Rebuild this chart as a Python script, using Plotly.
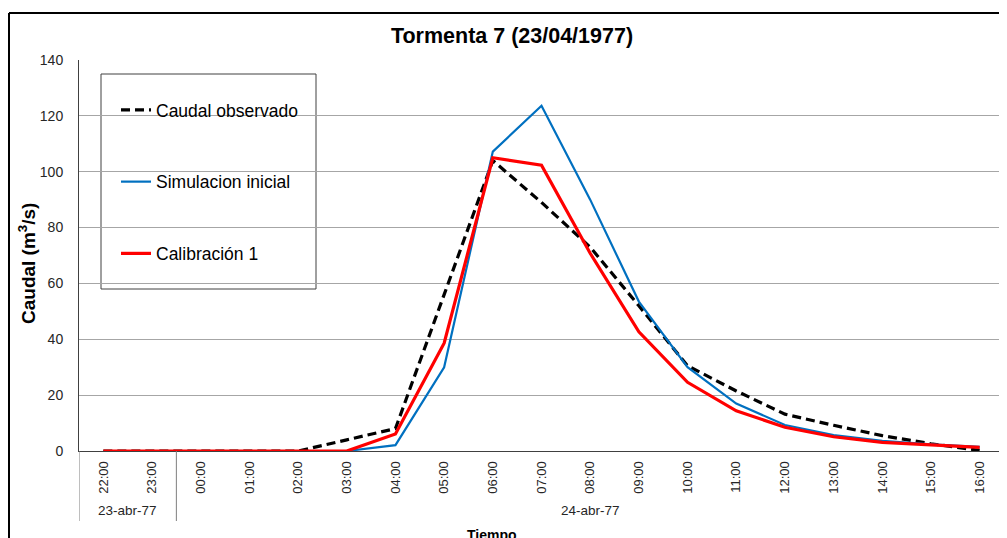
import plotly.graph_objects as go

horas = ["22:00", "23:00", "00:00", "01:00", "02:00", "03:00", "04:00", "05:00", "06:00",
         "07:00", "08:00", "09:00", "10:00", "11:00", "12:00", "13:00", "14:00", "15:00", "16:00"]
observado = [0, 0, 0, 0, 0, 4, 8, 56, 104, 89, 73, 52, 30.5, 21.5, 13.2, 9.2, 5.5, 2.6, 0.2]
simulacion = [0, 0, 0, 0, 0, 0, 2.1, 30, 107.2, 123.6, 90, 53.5, 30, 17, 9.3, 5.7, 3.6, 2.4, 1.5]
calibracion = [0, 0, 0, 0, 0, 0, 6.1, 38.6, 105, 102.3, 70.8, 42.7, 24.6, 14.4, 8.5, 5.1, 3.1, 2.1, 1.3]
fechas = ["23-abr-77", "24-abr-77"]

OFF = 8  # page body margin
SW, SH = 1007, 538
W, H = SW - OFF, SH - OFF
# plot area in screen pixels
L, R, T, B = 79, 1004, 60, 451
pw, ph = R - L, B - T


def px_x(x):
    return (x - L) / pw


def px_y(y):
    return (B - y) / ph


FONT = "Liberation Sans, Arial, sans-serif"

fig = go.Figure()
fig.add_trace(go.Scatter(x=horas, y=observado, mode="lines", name="Caudal observado",
                         legendgroup="a", line=dict(color="black", width=3.2, dash="9px,5px")))
fig.add_trace(go.Scatter(x=horas, y=simulacion, mode="lines", name="Simulacion inicial",
                         legendgroup="b", line=dict(color="#0070c0", width=2.2)))
fig.add_trace(go.Scatter(x=horas, y=calibracion, mode="lines", name="Calibración 1",
                         legendgroup="c", line=dict(color="#ff0000", width=3.2)))

shapes = [
    dict(type="rect", xref="paper", yref="paper", x0=px_x(101), x1=px_x(316), y0=px_y(289), y1=px_y(74),
         line=dict(color="#404040", width=1), fillcolor="white", layer="between"),
    dict(type="line", xref="paper", yref="paper", x0=1, x1=1, y0=px_y(521), y1=1,
         line=dict(color="#8c8c8c", width=1)),
    dict(type="line", xref="x", yref="paper", x0=-0.5, x1=-0.5, y0=px_y(521), y1=0,
         line=dict(color="#7f7f7f", width=1)),
    dict(type="line", xref="x", yref="paper", x0=1.5, x1=1.5, y0=px_y(521), y1=0,
         line=dict(color="#7f7f7f", width=1)),
    dict(type="line", xref="paper", yref="paper", x0=px_x(9), x1=px_x(1012), y0=px_y(13), y1=px_y(13),
         line=dict(color="black", width=2)),
    dict(type="line", xref="paper", yref="paper", x0=px_x(9), x1=px_x(9), y0=px_y(13), y1=px_y(545),
         line=dict(color="black", width=2)),
]

annotations = [
    dict(text=fechas[0], xref="x", yref="paper", x=0.5, y=px_y(510), showarrow=False,
         font=dict(size=13.5, color="#262626", family=FONT), xanchor="center", yanchor="middle"),
    dict(text=fechas[1], xref="x", yref="paper", x=10, y=px_y(510), showarrow=False,
         font=dict(size=13.5, color="#262626", family=FONT), xanchor="center", yanchor="middle"),
    dict(text="<b>Tiempo</b>", xref="paper", yref="paper", x=px_x(492), y=px_y(525), showarrow=False,
         font=dict(size=14, color="black", family=FONT), xanchor="center", yanchor="top"),
    dict(text="<b>Caudal (m<sup>3</sup>/s)</b>", xref="paper", yref="paper", x=px_x(27), y=px_y(264),
         showarrow=False, textangle=-90, font=dict(size=19, color="black", family=FONT),
         xanchor="center", yanchor="middle"),
]

fig.update_layout(
    width=W, height=H,
    margin=dict(l=L - OFF, r=W - (R - OFF), t=T - OFF, b=H - (B - OFF), pad=0),
    paper_bgcolor="white", plot_bgcolor="white",
    font=dict(family=FONT, color="#262626"),
    title=dict(text="<b>Tormenta 7 (23/04/1977)</b>", x=(512 - OFF) / W, y=1 - (35 - OFF) / H,
               xref="container", yref="container", xanchor="center", yanchor="middle",
               font=dict(size=21.5, color="black", family=FONT)),
    showlegend=True,
    legend=dict(x=px_x(116), y=px_y(92), xanchor="left", yanchor="top", bgcolor="rgba(0,0,0,0)",
                borderwidth=0, traceorder="grouped", tracegroupgap=46,
                font=dict(size=17.5, color="black", family=FONT), itemwidth=30),
    xaxis=dict(type="category", range=[-0.5, 18.5], tickangle=-90, showgrid=False,
               showline=True, linecolor="#404040", linewidth=1, ticks="", ticklabelstandoff=4,
               tickfont=dict(size=13, color="#262626", family=FONT), zeroline=False, fixedrange=True),
    yaxis=dict(range=[0, 140], dtick=20, showgrid=True, gridcolor="#a6a6a6", gridwidth=1,
               showline=True, linecolor="#404040", linewidth=1, ticks="", ticklabelstandoff=12,
               tickfont=dict(size=14, color="#262626", family=FONT), zeroline=False, fixedrange=True),
    shapes=shapes,
    annotations=annotations,
)

fig.write_html("out.html")
